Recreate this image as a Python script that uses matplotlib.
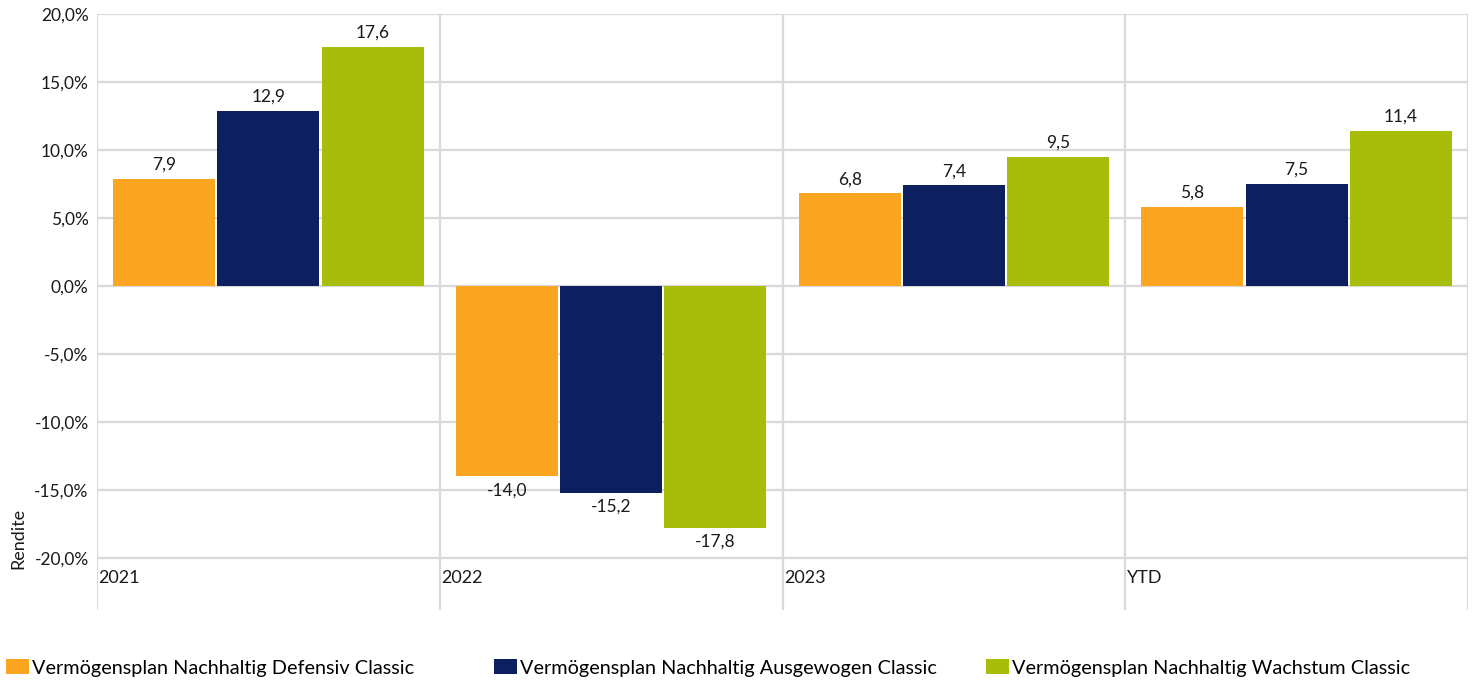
import matplotlib.pyplot as plt
import numpy as np
from matplotlib.ticker import FuncFormatter

plt.rcParams["font.family"] = ["Lato", "DejaVu Sans"]

categories = ["2021", "2022", "2023", "YTD"]
series_names = [
    "Vermögensplan Nachhaltig Defensiv Classic",
    "Vermögensplan Nachhaltig Ausgewogen Classic",
    "Vermögensplan Nachhaltig Wachstum Classic",
]
defensiv = [7.9, -14.0, 6.8, 5.8]
ausgewogen = [12.9, -15.2, 7.4, 7.5]
wachstum = [17.6, -17.8, 9.5, 11.4]
colors = ["#FBA521", "#0C1F5F", "#A8BD0A"]
y_ticks = [-20, -15, -10, -5, 0, 5, 10, 15, 20]

fig = plt.figure(figsize=(14.73, 6.82), dpi=100)
ax = fig.add_axes([97 / 1473, 1 - 610 / 682, (1468 - 97) / 1473, (610 - 14) / 682])

grid_c = "#d9d9d9"
n = len(categories)
ax.set_xlim(0, n)
ax.set_ylim(-23.83, 20)

# horizontal grid at the value ticks, vertical lines between categories
for y in y_ticks:
    ax.axhline(y, color=grid_c, lw=1.6, zorder=0)
for x in range(n + 1):
    ax.axvline(x, color=grid_c, lw=1.6, zorder=0)

width = 0.298
step = 0.304
handles = []
for k, (vals, col) in enumerate(zip([defensiv, ausgewogen, wachstum], colors)):
    xs = np.arange(n) + 0.5 + (k - 1) * step
    b = ax.bar(xs, vals, width=width, color=col, zorder=2, label=series_names[k])
    handles.append(b)
    for x, v in zip(xs, vals):
        txt = f"{v:.1f}".replace(".", ",")
        if v >= 0:
            ax.text(x, v + 0.45, txt, ha="center", va="bottom", fontsize=12.5, color="#1a1a1a")
        else:
            ax.text(x, v - 0.45, txt, ha="center", va="top", fontsize=12.5, color="#1a1a1a")

for i, c in enumerate(categories):
    ax.text(i + 0.004, -20.9, c, ha="left", va="top", fontsize=13, color="#1a1a1a")

ax.set_yticks(y_ticks)
ax.yaxis.set_major_formatter(FuncFormatter(lambda v, _: f"{v:.1f}%".replace(".", ",")))
ax.set_xticks([])
ax.tick_params(axis="y", length=0, labelsize=12.5, labelcolor="#1a1a1a", pad=6)
for s in ax.spines.values():
    s.set_visible(False)

fig.text(18 / 1473, 1 - 538 / 682, "Rendite", rotation=90, ha="center", va="center",
         fontsize=13, color="#1a1a1a")

# one legend entry per fixed-width slot along the bottom
for h, x0 in zip(handles, [6, 494, 986]):
    fig.legend(handles=[h], loc="center left", bbox_to_anchor=(x0 / 1473, 1 - 668 / 682),
               frameon=False, fontsize=14.3, handlelength=1.15, handleheight=0.75,
               handletextpad=0.15, borderaxespad=0, borderpad=0)

fig.savefig("out.png", dpi=100)
